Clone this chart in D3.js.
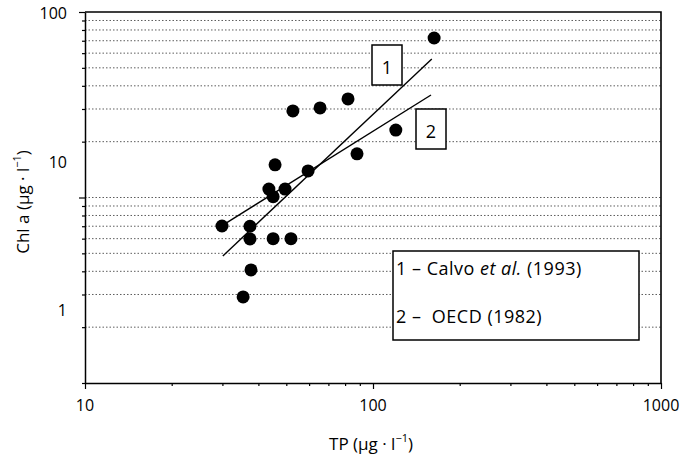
<!DOCTYPE html>
<html>
<head>
<meta charset="utf-8">
<script src="https://cdn.jsdelivr.net/npm/d3@7"></script>
<style>
  body { margin: 0; background: #fff; }
  svg { font-family: "Open Sans", sans-serif; }
</style>
</head>
<body>
<div id="chart"></div>
<script>
// TP (ug/l) vs Chl a (ug/l)
const tp   = [163, 52.7, 65.5, 81.9, 120, 88.0, 45.7, 59.5, 43.5, 49.5, 45.0, 29.9, 37.4, 37.4, 45.0, 51.9, 37.7, 35.4];
const chla = [72.4, 29.3, 30.4, 34.0, 23.1, 17.2, 15.0, 13.9, 11.1, 11.1, 10.1, 7.02, 7.0, 5.98, 6.0, 6.0, 4.07, 2.91];

// regression lines: [tp, chla] end points
const line1 = [[30.1, 4.84], [160, 55.8]];  // Calvo et al. (1993)
const line2 = [[28.7, 6.77], [159, 35.7]];  // OECD (1982)

const xTicks = [10, 100, 1000];
const yTicks = [1, 10, 100];
const legendItems = ["1 – ", "2 – "];

const width = 680, height = 457;
const plotL = 85, plotR = 661, plotT = 12, plotB = 383;

const svg = d3.select("#chart").append("svg")
  .attr("width", width)
  .attr("height", height);

const x = d3.scaleLog().domain([10, 1000]).range([plotL, plotR]);
const y = d3.scaleLog().domain([1, 100]).range([plotB, plotT]);
// the printed figure places its y labels off the tick marks
const yLabel = d3.scaleLog().domain([1, 100]).range([310, 13]);

const minorY = [2,3,4,5,6,7,8,9,10,20,30,40,50,60,70,80,90];
const minorX = [20,30,40,50,60,70,80,90,200,300,400,500,600,700,800,900];

// dotted grid
svg.append("g").selectAll("line")
  .data(minorY)
  .enter().append("line")
    .attr("x1", plotL).attr("x2", plotR)
    .attr("y1", d => y(d)).attr("y2", d => y(d))
    .attr("stroke", "#333")
    .attr("stroke-width", 0.8)
    .attr("stroke-dasharray", "1.5,2");

// y axis ticks
const gy = svg.append("g")
  .attr("transform", `translate(${plotL},0)`)
  .call(d3.axisLeft(y).tickValues(minorY.concat([1, 100])).tickFormat("")
    .tickSize(3).tickSizeOuter(0));
gy.selectAll(".tick line").filter(d => d === 10 || d === 100).attr("x2", -6);

// x axis ticks
const gx = svg.append("g")
  .attr("transform", `translate(0,${plotB})`)
  .call(d3.axisBottom(x).tickValues(minorX.concat(xTicks)).tickFormat("")
    .tickSize(3).tickSizeOuter(0));
gx.selectAll(".tick line").filter(d => xTicks.includes(d)).attr("y2", 6);

svg.selectAll(".domain").attr("stroke", "#000").attr("stroke-width", 1.5);
svg.selectAll(".tick line").attr("stroke", "#000").attr("stroke-width", 1.2);

// frame top and right
svg.append("path")
  .attr("d", `M${plotL},${plotT}H${plotR}V${plotB}`)
  .attr("fill", "none")
  .attr("stroke", "#000")
  .attr("stroke-width", 1.6);

// tick labels
svg.append("g").selectAll("text")
  .data(yTicks)
  .enter().append("text")
    .attr("x", 67)
    .attr("y", d => yLabel(d))
    .attr("text-anchor", "end")
    .attr("dominant-baseline", "central")
    .attr("font-size", 16)
    .text(d => d);

svg.append("g").selectAll("text")
  .data(xTicks)
  .enter().append("text")
    .attr("x", d => x(d))
    .attr("y", 405)
    .attr("text-anchor", "middle")
    .attr("dominant-baseline", "central")
    .attr("font-size", 16)
    .text(d => d);

// axis titles
const xt = svg.append("text")
  .attr("x", 371).attr("y", 443)
  .attr("text-anchor", "middle")
  .attr("dominant-baseline", "central")
  .attr("font-size", 17);
xt.append("tspan").text("TP (µg · l");
xt.append("tspan").attr("dy", -6).attr("font-size", 11).text("−1");
xt.append("tspan").attr("dy", 6).text(")");

const yt = svg.append("text")
  .attr("transform", "translate(22,202) rotate(-90)")
  .attr("text-anchor", "middle")
  .attr("dominant-baseline", "central")
  .attr("font-size", 17);
yt.append("tspan").text("Chl a (µg · l");
yt.append("tspan").attr("dy", -6).attr("font-size", 11).text("−1");
yt.append("tspan").attr("dy", 6).text(")");

// regression lines
[line1, line2].forEach(l => {
  svg.append("line")
    .attr("x1", x(l[0][0])).attr("y1", y(l[0][1]))
    .attr("x2", x(l[1][0])).attr("y2", y(l[1][1]))
    .attr("stroke", "#000")
    .attr("stroke-width", 1.4);
});

// points
svg.append("g").selectAll("circle")
  .data(tp.map((d, i) => [d, chla[i]]))
  .enter().append("circle")
    .attr("cx", d => x(d[0]))
    .attr("cy", d => y(d[1]))
    .attr("r", 6.5)
    .attr("fill", "#000");

// number boxes next to the lines
const boxes = [
  { t: "1", x0: 372, y0: 45 },
  { t: "2", x0: 416, y0: 109 }
];
boxes.forEach(b => {
  svg.append("rect")
    .attr("x", b.x0).attr("y", b.y0)
    .attr("width", 30).attr("height", 40)
    .attr("fill", "#fff")
    .attr("stroke", "#000")
    .attr("stroke-width", 1.5);
  svg.append("text")
    .attr("x", b.x0 + 15).attr("y", b.y0 + 22)
    .attr("text-anchor", "middle")
    .attr("dominant-baseline", "central")
    .attr("font-size", 18)
    .text(b.t);
});

// legend
svg.append("rect")
  .attr("x", 393).attr("y", 251)
  .attr("width", 246).attr("height", 89)
  .attr("fill", "#fff")
  .attr("stroke", "#000")
  .attr("stroke-width", 1.5);

const l1 = svg.append("text")
  .attr("x", 396).attr("y", 268)
  .attr("dominant-baseline", "central")
  .attr("font-size", 18)
  .attr("letter-spacing", 0.5);
l1.append("tspan").text(legendItems[0] + "Calvo ");
l1.append("tspan").attr("font-style", "italic").text("et al.");
l1.append("tspan").text(" (1993)");

svg.append("text")
  .attr("x", 396).attr("y", 316)
  .attr("dominant-baseline", "central")
  .attr("font-size", 18)
  .attr("letter-spacing", 0.5)
  .attr("xml:space", "preserve")
  .text(legendItems[1] + " OECD (1982)");
</script>
</body>
</html>
